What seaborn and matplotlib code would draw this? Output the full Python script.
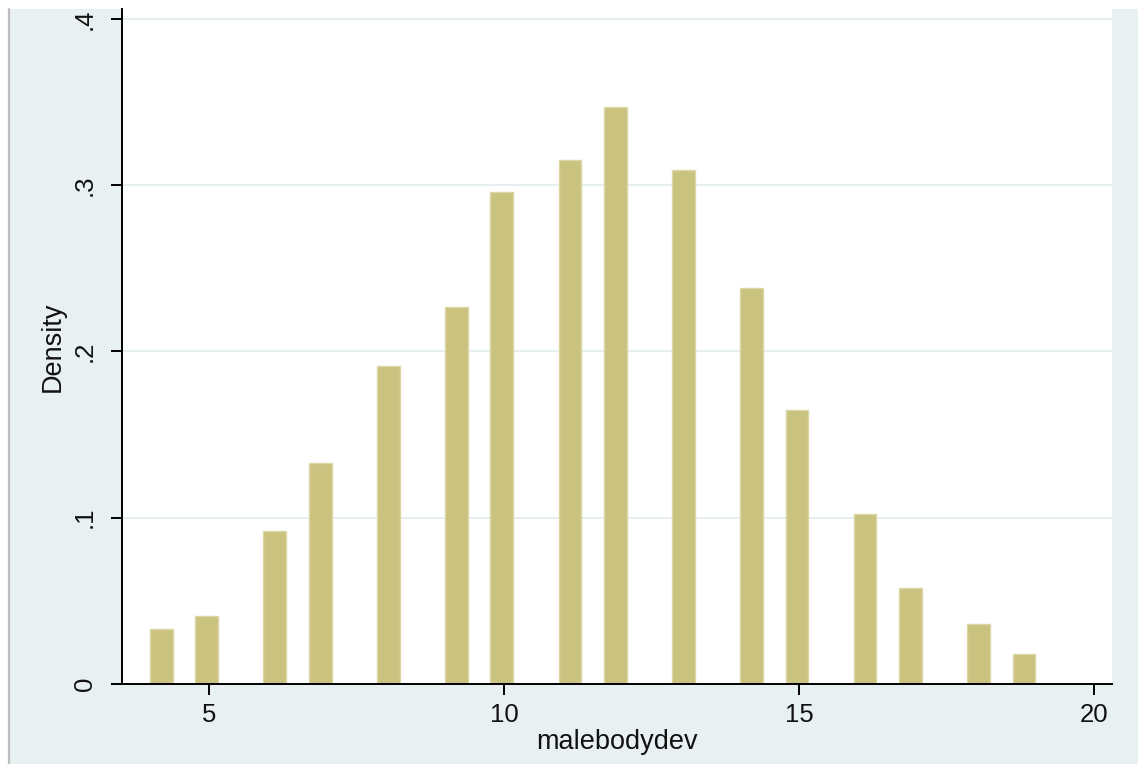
import numpy as np
import pandas as pd
import matplotlib
matplotlib.use("Agg")
import matplotlib.pyplot as plt
from matplotlib.patches import Rectangle
from matplotlib.lines import Line2D
import seaborn as sns

# Histogram of malebodydev: integer scores and their density heights
values = [4, 5, 6, 7, 8, 9, 10, 11, 12, 13, 14, 15, 16, 17, 18, 19]
density = [0.033, 0.041, 0.092, 0.133, 0.191, 0.227, 0.296, 0.315,
           0.347, 0.309, 0.238, 0.165, 0.102, 0.058, 0.036, 0.018]

x_ticks = [5, 10, 15, 20]
y_ticks = [0, 0.1, 0.2, 0.3, 0.4]
y_tick_labels = ["0", ".1", ".2", ".3", ".4"]

bar_color = "#CAC27F"
bar_edge = "#DDD7A6"
panel_color = "#E8F0F2"
grid_color = "#E6EEF1"

sns.set_theme(style="white")
plt.rcParams["font.family"] = ["Liberation Sans", "DejaVu Sans"]

W, H = 1138, 764
fig = plt.figure(figsize=(W / 100, H / 100), dpi=100, facecolor="white")

# outer graph region with its thin grey border on the left
fig.patches.append(Rectangle((8 / W, 0), 1 - 8 / W, (H - 9) / H,
                             transform=fig.transFigure, facecolor=panel_color,
                             edgecolor="none", zorder=-10))
fig.add_artist(Line2D([8.5 / W, 8.5 / W], [0, (H - 9) / H],
                      transform=fig.transFigure, color="#BEBEBE", lw=1.6,
                      zorder=-5))

ax = fig.add_axes([122 / W, (H - 684) / H, (1112 - 122) / W, (684 - 9) / H])
ax.set_facecolor("white")

# 39 equal bins spanning 4..19
df = pd.DataFrame({"malebodydev": values, "density": density})
sns.histplot(data=df, x="malebodydev", weights="density",
             binwidth=15 / 39, binrange=(4, 19),
             color=bar_color, edgecolor=bar_edge, linewidth=1.0, alpha=1.0,
             ax=ax, zorder=2)

ax.set_xlim(3.526, 20.30)
ax.set_ylim(0, 0.406)
ax.set_xticks(x_ticks)
ax.set_xticklabels([str(t) for t in x_ticks])
ax.set_yticks(y_ticks)
ax.set_yticklabels(y_tick_labels)
for lab in ax.get_yticklabels():
    lab.set_rotation(90)
    lab.set_va("center")

ax.yaxis.grid(True, color=grid_color, lw=1.4)
ax.xaxis.grid(False)
ax.set_axisbelow(True)

for side in ["top", "right"]:
    ax.spines[side].set_visible(False)
for side in ["left", "bottom"]:
    ax.spines[side].set_color("black")
    ax.spines[side].set_linewidth(1.4)

ax.tick_params(axis="both", bottom=True, left=True, direction="out",
               length=8, width=1.4, color="black", labelsize=18.5,
               labelcolor="#111111")
ax.tick_params(axis="x", pad=6)
ax.tick_params(axis="y", pad=10)

ax.set_xlabel("malebodydev", fontsize=19.5, color="#111111", labelpad=1)
ax.set_ylabel("Density", fontsize=19.5, color="#111111", labelpad=5)

fig.savefig("out.png", dpi=100, facecolor="white")
